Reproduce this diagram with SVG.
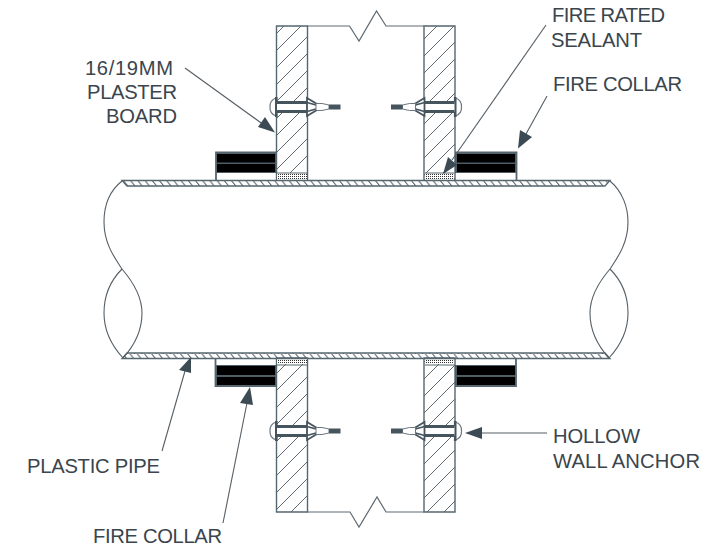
<svg xmlns="http://www.w3.org/2000/svg" width="707" height="557" viewBox="0 0 707 557">
<style>
text{font-family:"Liberation Sans",Arial,sans-serif;font-size:20.2px;fill:#3a454d}
.w{fill:url(#wh);stroke:#56666f;stroke-width:1.4}
.o{fill:none;stroke:#5e6a72;stroke-width:1.2}
.l{fill:none;stroke:#555e65;stroke-width:1.1}
.h{fill:#3c4a53;stroke:none}
.s{fill:url(#dots);stroke:none}
.b{fill:#000}
.g{fill:#4f5d66}
.c{fill:none;stroke:#56666f;stroke-width:1.8}
.p{fill:url(#ph);stroke:#56666f;stroke-width:1.3}
</style>
<defs>
<pattern id="wh" patternUnits="userSpaceOnUse" width="17" height="17" patternTransform="translate(3 1)">
<path d="M-2 19L19 -2M-2 2L2 -2M15 19L19 15" stroke="#5e6a72" stroke-width="1" fill="none"/>
</pattern>
<pattern id="ph" patternUnits="userSpaceOnUse" width="7.2" height="6">
<path d="M0.5 0L5.5 6" stroke="#4a565e" stroke-width="1" fill="none"/>
</pattern>
<pattern id="dots" patternUnits="userSpaceOnUse" width="2" height="2">
<rect width="2" height="2" fill="#fff"/>
<rect width="1" height="1" fill="#333"/>
</pattern>
<g id="anchor">
<path d="M276 98A9 9 0 0 0 270 107A9 9 0 0 0 276 116" fill="#fff" stroke="#6c7780" stroke-width="1.2"/>
<rect x="275" y="97" width="2.600" height="20" fill="#46545d"/>
<rect x="277" y="102" width="30" height="10" fill="#fff"/>
<path d="M277 102.500H309M277 111.500H309" stroke="#46545d" stroke-width="3" fill="none"/>
<path d="M307 98L317 104V110L307 116Z" fill="#fff" stroke="#46545d" stroke-width="1.800"/>
<path d="M307 102.500L316 105M307 111.500L316 109" stroke="#46545d" stroke-width="1.800" fill="none"/>
<path d="M316 103.500L322 103.500L329 105V109L322 110.500L316 110.500Z" fill="#fff" stroke="#6c7780"/>
<rect x="329" y="104.500" width="11.500" height="5" fill="#46545d"/>
</g>
</defs>
<g id="wall-left-top">
<path class="w" d="M276.500 26H307.500V180H276.500Z"/>
<rect class="s" x="277" y="173" width="30" height="7"/>
<path d="M277 173H307" stroke="#56666f" fill="none"/>
</g>
<g id="wall-right-top">
<path class="w" d="M424 26H455V180H424Z"/>
<rect class="s" x="425" y="173" width="29" height="7"/>
<path d="M425 173H454" stroke="#56666f" fill="none"/>
</g>
<g id="wall-left-bottom">
<path class="w" d="M276.500 358H307.500V512H276.500Z"/>
<rect class="s" x="277" y="358" width="30" height="6"/>
<path d="M277 365H307" stroke="#56666f" fill="none"/>
</g>
<g id="wall-right-bottom">
<path class="w" d="M424 358H455V512H424Z"/>
<rect class="s" x="425" y="358" width="29" height="6"/>
<path d="M425 365H454" stroke="#56666f" fill="none"/>
</g>
<g id="breaks">
<path class="o" d="M307.500 26H349.500L359 41L376.500 11L386 26H424"/>
<path class="o" d="M307.500 512H350L359 527L377 497L386 512H424"/>
</g>
<g id="collar-top-left">
<rect class="g" x="216" y="152.500" width="60" height="20.500"/>
<rect class="b" x="217" y="154" width="58" height="8.500"/>
<rect class="b" x="217" y="164" width="58" height="8"/>
<path class="c" d="M216 180V152.500H276"/>
</g>
<g id="collar-top-right">
<rect class="g" x="455" y="152.500" width="61" height="20.500"/>
<rect class="b" x="457" y="154" width="58" height="8.500"/>
<rect class="b" x="457" y="164" width="58" height="8"/>
<path class="c" d="M516.500 180V152.500H455"/>
</g>
<g id="collar-bottom-left">
<rect class="g" x="216" y="365" width="60" height="21"/>
<rect class="b" x="217" y="366" width="58" height="9"/>
<rect class="b" x="217" y="377" width="58" height="8"/>
<path class="c" d="M215.500 358V386H276"/>
</g>
<g id="collar-bottom-right">
<rect class="g" x="455" y="365" width="61" height="21"/>
<rect class="b" x="457" y="366" width="58" height="9"/>
<rect class="b" x="457" y="377" width="58" height="8"/>
<path class="c" d="M516 358V386H455"/>
</g>
<g id="pipe">
<path class="p" d="M122 180.500H610L605 186H127Z"/>
<path class="p" d="M127 353H605L610 358.500H122Z"/>
<path class="l" d="M122 181C108 192 104 208 104 222C104 243 114 257 122 269C134 283 142 298 142 313C142 330 134 346 123 358"/>
<path class="l" d="M122 269C110 281 104 297 104 313C104 330 112 346 123 358"/>
<path class="l" d="M610 181C623 192 628 208 628 222C628 243 618 257 610 269C598 283 590 298 590 313C590 330 598 346 609 358"/>
<path class="l" d="M610 269C622 281 628 297 628 313C628 330 620 346 609 358"/>
</g>
<g id="anchors">
<use href="#anchor"/>
<use href="#anchor" transform="translate(0 324)"/>
<use href="#anchor" transform="translate(731.500 0) scale(-1 1)"/>
<use href="#anchor" transform="translate(731.500 324) scale(-1 1)"/>
</g>
<g id="connectors">
<path class="l" d="M185 68L264 125"/>
<path class="h" d="M275 132.500L258 127L265 117Z"/>
<path class="l" d="M546 25L452 160"/>
<path class="h" d="M443 174L448 157L457 165Z"/>
<path class="l" d="M547 96L526 134"/>
<path class="h" d="M518 148.500L520 130L532 137Z"/>
<path class="l" d="M162 451L185 371"/>
<path class="h" d="M191 357L179 370L191 373Z"/>
<path class="l" d="M223 523L247 403"/>
<path class="h" d="M250 387L240 403L253 405Z"/>
<path class="l" d="M547 433H481"/>
<path class="h" d="M465 433L482 427V439Z"/>
</g>
<g id="labels">
<text x="85" y="75" textLength="88">16/19MM</text>
<text x="87" y="98.500" textLength="90">PLASTER</text>
<text x="106" y="123" textLength="71">BOARD</text>
<text x="552" y="21.500" textLength="113">FIRE RATED</text>
<text x="551" y="46.500" textLength="91">SEALANT</text>
<text x="553" y="90.500" textLength="129">FIRE COLLAR</text>
<text x="553" y="442.500" textLength="87">HOLLOW</text>
<text x="553" y="468" textLength="147">WALL ANCHOR</text>
<text x="27" y="473" textLength="133">PLASTIC PIPE</text>
<text x="93" y="543" textLength="129">FIRE COLLAR</text>
</g>
</svg>
